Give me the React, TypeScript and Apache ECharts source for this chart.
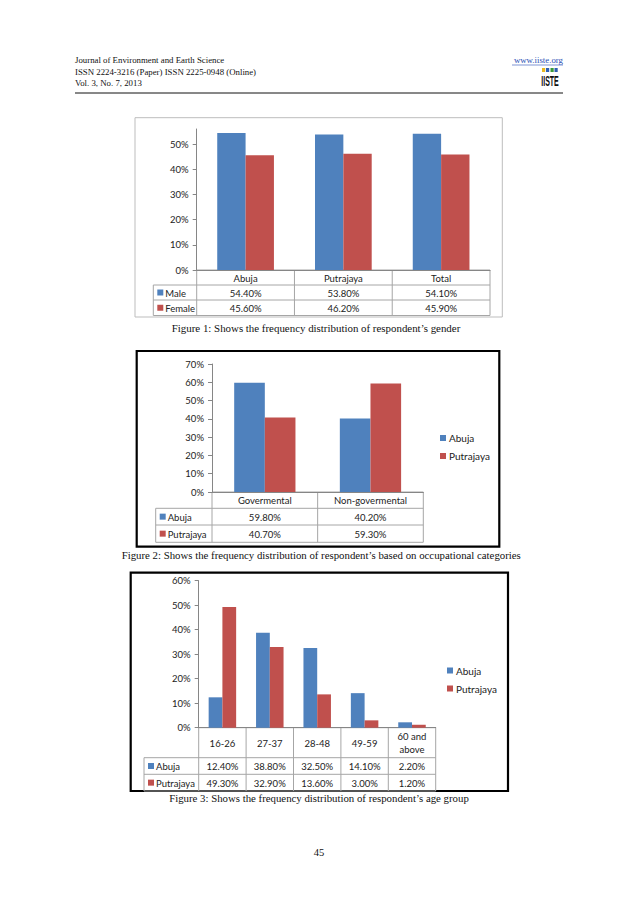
import React, { useEffect, useRef } from "react";
import * as echarts from "echarts";

// ---------- data ----------
const genderCategories = ["Abuja", "Putrajaya", "Total"];
const genderSeriesNames = ["Male", "Female"];
const genderMale = [54.4, 53.8, 54.1];
const genderFemale = [45.6, 46.2, 45.9];
const genderTicks = [0, 10, 20, 30, 40, 50];

const occCategories = ["Govermental", "Non-govermental"];
const occSeriesNames = ["Abuja", "Putrajaya"];
const occAbuja = [59.8, 40.2];
const occPutrajaya = [40.7, 59.3];

const ageCategories = ["16-26", "27-37", "28-48", "49-59", "60 and\nabove"];
const ageSeriesNames = ["Abuja", "Putrajaya"];
const ageAbuja = [12.4, 38.8, 32.5, 14.1, 2.2];
const agePutrajaya = [49.3, 32.9, 13.6, 3.0, 1.2];

const headerLines = [
  "Journal of Environment and Earth Science",
  "ISSN 2224-3216 (Paper) ISSN 2225-0948 (Online)",
  "Vol. 3, No. 7, 2013",
];
const siteText = "www.iiste.org";
const captions = [
  "Figure 1: Shows the frequency distribution of respondent\u2019s gender",
  "Figure 2: Shows the frequency distribution of respondent\u2019s based on occupational categories",
  "Figure 3: Shows the frequency distribution of respondent\u2019s age group",
];
const pageNumber = "45";

// ---------- styles / layout ----------
const BLUE = "#4F81BD";
const RED = "#C0504D";
const FONT = "Lato, 'Noto Sans', sans-serif";
const FS = 9.5;
const SERIF = "'Liberation Serif', 'DejaVu Serif', serif";
const TABLE_LINE = "#a6a6a6";
const AXIS_LINE = "#868686";

const L1 = { gridL: 196.7, gridR: 490, gridT: 129, gridB: 270, tableL: 153.3, rows: [15, 15, 15.5], max: 56 };
const L2 = { gridL: 212, gridR: 423.3, gridT: 364, gridB: 492, tableL: 155.7, rows: [16.3, 16.7, 17.3], max: 70 };
const L3 = { gridL: 198.7, gridR: 435.7, gridT: 580.7, gridB: 727.7, tableL: 144, rows: [30, 16.6, 16.7], max: 60 };

function fmtPct(v: number) {
  return v.toFixed(2) + "%";
}

function textEl(x: number, y: number, text: string, opts: any = {}) {
  const align = opts.align || "center";
  const valign = opts.valign || "middle";
  return {
    type: "text",
    x,
    y,
    silent: true,
    style: {
      text,
      fill: opts.fill || "#222",
      font: opts.font || `${FS}px ${FONT}`,
      align,
      verticalAlign: valign,
      textAlign: align,
      textVerticalAlign: valign,
      lineHeight: opts.lineHeight,
    },
  };
}

function lineEl(x1: number, y1: number, x2: number, y2: number, stroke = TABLE_LINE, w = 1) {
  return { type: "line", silent: true, shape: { x1, y1, x2, y2 }, style: { stroke, lineWidth: w } };
}

function tableGraphics(L: any, cats: string[], names: string[], values: number[][], colors: string[]) {
  const out: any[] = [];
  const n = cats.length;
  const cw = (L.gridR - L.gridL) / n;
  const ys = [L.gridB];
  L.rows.forEach((h: number) => ys.push(ys[ys.length - 1] + h));
  const bottom = ys[ys.length - 1];
  out.push(lineEl(L.gridL, ys[0], L.gridR, ys[0]));
  for (let r = 1; r < ys.length; r++) out.push(lineEl(L.tableL, ys[r], L.gridR, ys[r]));
  out.push(lineEl(L.tableL, ys[1], L.tableL, bottom));
  for (let i = 0; i <= n; i++) out.push(lineEl(L.gridL + i * cw, ys[0], L.gridL + i * cw, bottom));
  cats.forEach((c, i) => {
    out.push(textEl(L.gridL + (i + 0.5) * cw, (ys[0] + ys[1]) / 2 + 0.5, c, { lineHeight: 12.6 }));
  });
  names.forEach((nm, s) => {
    const yMid = (ys[s + 1] + ys[s + 2]) / 2 + 0.5;
    out.push({
      type: "rect",
      silent: true,
      shape: { x: L.tableL + 4, y: yMid - 3.5, width: 6, height: 6 },
      style: { fill: colors[s] },
    });
    out.push(textEl(L.tableL + 12, yMid, nm, { align: "left" }));
    values[s].forEach((v, i) => {
      out.push(textEl(L.gridL + (i + 0.5) * cw, yMid, fmtPct(v)));
    });
  });
  return out;
}

function gridFor(L: any) {
  return {
    left: L.gridL,
    top: L.gridT,
    width: L.gridR - L.gridL,
    height: L.gridB - L.gridT,
    containLabel: false,
    outerBoundsMode: "none",
  };
}

function yAxisFor(idx: number, L: any, ticks?: number[]) {
  const ax: any = {
    type: "value",
    gridIndex: idx,
    min: 0,
    max: L.max,
    interval: 10,
    splitLine: { show: false },
    axisLine: { show: true, lineStyle: { color: AXIS_LINE, width: 1 } },
    axisTick: { show: true, inside: false, length: 4, lineStyle: { color: AXIS_LINE } },
    axisLabel: {
      margin: 8,
      color: "#222",
      fontSize: FS,
      fontFamily: FONT,
      formatter: (v: number) => (Math.abs(v % 10) < 1e-9 ? `${v}%` : ""),
    },
  };
  if (ticks) {
    ax.axisLabel.customValues = ticks;
    ax.axisTick.customValues = ticks;
  }
  return ax;
}

function xAxisFor(idx: number, cats: string[]) {
  return {
    type: "category",
    gridIndex: idx,
    data: cats,
    boundaryGap: true,
    axisLine: { show: true, lineStyle: { color: AXIS_LINE } },
    axisTick: { show: false },
    axisLabel: { show: false },
    splitLine: { show: false },
  };
}

function barSeries(name: string, data: number[], color: string, idx: number) {
  return {
    type: "bar",
    name,
    data,
    xAxisIndex: idx,
    yAxisIndex: idx,
    barGap: "0%",
    barCategoryGap: "42%",
    itemStyle: { color },
    emphasis: { disabled: true },
  };
}

export default function App() {
  const ref = useRef<HTMLDivElement>(null);
  useEffect(() => {
    if (!ref.current) return;
    const chart = echarts.init(ref.current, undefined, { renderer: "svg" });

    const graphics: any[] = [];
    // header
    headerLines.forEach((t, i) => {
      graphics.push(textEl(75, 60 + i * 11.5, t, { align: "left", font: `8.8px ${SERIF}`, fill: "#111" }));
    });
    graphics.push(textEl(563, 60, siteText, { align: "right", font: `8.8px ${SERIF}`, fill: "#2a4fb5" }));
    graphics.push(lineEl(512, 65, 563, 65, "#2a4fb5", 0.6));
    // logo
    [
      [542, "#e9b820"],
      [546, "#2f5fb3"],
      [550.5, "#3a9a3a"],
      [554.5, "#2f5fb3"],
    ].forEach(([x, c]: any) => {
      graphics.push({ type: "rect", silent: true, shape: { x, y: 68, width: 3.2, height: 4 }, style: { fill: c } });
    });
    graphics.push({
      ...textEl(0, 0, "IISTE", { font: `bold 14px 'Liberation Sans', sans-serif`, fill: "#111" }),
      x: 550,
      y: 80.5,
      scaleX: 0.5,
      scaleY: 1,
    });
    graphics.push(lineEl(75, 93, 563, 93, "#111", 1));

    // frames
    graphics.push({
      type: "rect",
      silent: true,
      shape: { x: 135, y: 117.7, width: 367.3, height: 199.3 },
      style: { fill: "none", stroke: "#bdbdbd", lineWidth: 1 },
    });
    graphics.push({
      type: "rect",
      silent: true,
      shape: { x: 136.7, y: 351, width: 362.6, height: 195.7 },
      style: { fill: "none", stroke: "#000", lineWidth: 2.2 },
    });
    graphics.push({
      type: "rect",
      silent: true,
      shape: { x: 130.7, y: 572.7, width: 377.3, height: 218.3 },
      style: { fill: "none", stroke: "#000", lineWidth: 2.2 },
    });

    // tables
    graphics.push(...tableGraphics(L1, genderCategories, genderSeriesNames, [genderMale, genderFemale], [BLUE, RED]));
    graphics.push(...tableGraphics(L2, occCategories, occSeriesNames, [occAbuja, occPutrajaya], [BLUE, RED]));
    graphics.push(...tableGraphics(L3, ageCategories, ageSeriesNames, [ageAbuja, agePutrajaya], [BLUE, RED]));

    // captions
    graphics.push(textEl(316, 328, captions[0], { font: `10.9px ${SERIF}`, fill: "#111" }));
    graphics.push(textEl(121.7, 555, captions[1], { align: "left", font: `10.8px ${SERIF}`, fill: "#111" }));
    graphics.push(textEl(319, 797.5, captions[2], { font: `10.8px ${SERIF}`, fill: "#111" }));
    graphics.push(textEl(319, 852, pageNumber, { font: `10.5px ${SERIF}`, fill: "#111" }));

    const legendCommon = {
      orient: "vertical",
      icon: "rect",
      itemWidth: 6,
      itemHeight: 6,
      itemGap: 8,
      padding: 0,
      selectedMode: false,
      textStyle: { fontSize: 10, fontFamily: FONT, color: "#222", padding: [0, 0, 0, -2] },
    };

    chart.setOption({
      animation: false,
      backgroundColor: "#ffffff",
      grid: [gridFor(L1), gridFor(L2), gridFor(L3)],
      xAxis: [xAxisFor(0, genderCategories), xAxisFor(1, occCategories), xAxisFor(2, ageCategories)],
      yAxis: [yAxisFor(0, L1, genderTicks), yAxisFor(1, L2), yAxisFor(2, L3)],
      legend: [
        { ...legendCommon, data: occSeriesNames, left: 440, top: 433 },
        { ...legendCommon, data: ageSeriesNames, left: 447, top: 665.5 },
      ],
      series: [
        barSeries(genderSeriesNames[0], genderMale, BLUE, 0),
        barSeries(genderSeriesNames[1], genderFemale, RED, 0),
        barSeries(occSeriesNames[0], occAbuja, BLUE, 1),
        barSeries(occSeriesNames[1], occPutrajaya, RED, 1),
        barSeries(ageSeriesNames[0], ageAbuja, BLUE, 2),
        barSeries(ageSeriesNames[1], agePutrajaya, RED, 2),
      ],
      graphic: { elements: graphics },
    });
    return () => chart.dispose();
  }, []);
  return (
    <div
      ref={ref}
      style={{ position: "absolute", left: 0, top: 0, width: 638, height: 903, background: "#fff" }}
    />
  );
}
